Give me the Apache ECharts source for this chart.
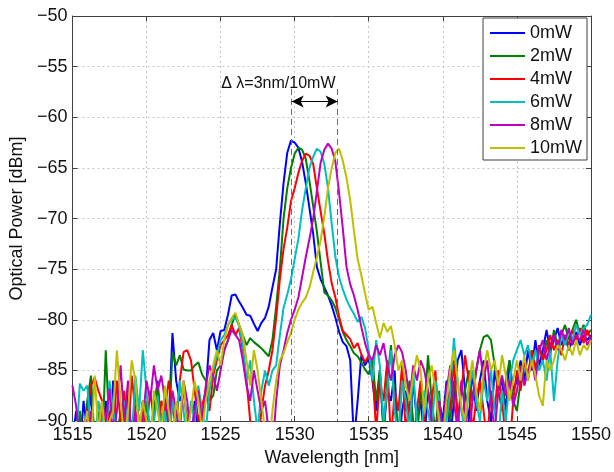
<!DOCTYPE html>
<html><head><meta charset="utf-8">
<script src="https://cdn.jsdelivr.net/npm/echarts@6/dist/echarts.min.js"></script>
<style>html,body{margin:0;padding:0;background:#fff}#c{width:614px;height:472px}</style>
</head><body><div id="c"></div>
<script>
// ---- data ----
const xStart = 1515, xStep = 0.25, nPoints = 141;
const seriesNames = ['0mW','2mW','4mW','6mW','8mW','10mW'];
const xTicks = [1515,1520,1525,1530,1535,1540,1545,1550];
const yTicks = [-90,-85,-80,-75,-70,-65,-60,-55,-50];

const p0mW = [
 -92,-89,-93,-88,   -91,-87,-93,-90,   -94,-88,-92,-86,   -93,-89,-94,-87,   // 1515-1518
 -92,-90,-93,-88,   -91,-94,-89,-86,   -92,-88,-90,-81.3, -86,-88,-87,-90,   // 1519-1522
 -93,-88,-91,-89,   -87,-82,-81.3,-83, -81.1,-81,-79.5,-77.6, -77.5,-78.2,-78.8,-79.5, // 1523-1526
 -79.6,-80.4,-81.1,-80.3, -79.8,-78.7,-76.8,-75, -70.5,-66.5,-63.5,-62.3, -62.5,-63.0,-64.4,-66.5, // 1527-1530
 -69,-71.5,-74.8,-76, -76.8,-77.6,-78.6,-79.8, -81.2,-82.2,-82.6,-84, -92,-88,-83.5,-84.5, // 1531-1534
 -83.8,-86,-89,-85, -91,-87,-88,-85, -93,-89,-87,-91, -86,-90,-88,-92, // 1535-1538
 -87,-89,-93,-88, -90,-86,-92,-88, -84,-83,-87,-90, -85,-89,-86,-84, // 1539-1542
 -88,-90,-85,-87, -86,-89,-84,-87, -86,-84,-86,-83, -85,-82,-84.5,-83, // 1543-1546
 -81,-83,-82,-80.8, -82.5,-81.5,-83,-82, -81.2,-82.5,-81.5,-82, -81.5 // 1547-1550
];
const p2mW = [
 -91,-93,-89,-92, -88,-85.5,-92,-89, -93,-83,-91,-88, -92,-89,-94,-90,
 -92,-87,-90,-93, -88,-91,-89,-86.5, -90,-88,-91,-83.2, -84.5,-83.5,-84.9,-85,
 -85,-84.5,-84.2,-85.4, -86,-88,-87.5,-85, -84.5,-83,-82,-80.5, -79.5,-80.5,-81.5,-82.5,
 -81.8,-82.2,-82.5,-82.8, -83.2,-83.6,-82,-78.7, -75,-70,-67,-65, -63.6,-63.0,-63.2,-64.1,
 -66.3,-68.8,-71.3,-74.3, -77.3,-77.6,-78.1,-78.8, -80,-81.2,-82,-82.6, -83.3,-83.6,-84.2,-84.9,
 -85.4,-84,-88,-85, -91,-86,-82.5,-88, -92,-85,-89,-86, -90,-92,-87,-89,
 -83.5,-88,-91,-87, -93,-88,-90,-86, -89,-92,-87,-85, -88,-85,-83,-81.7,
 -81.5,-82,-84.5,-87, -89,-86,-84,-88, -89,-86,-84,-86, -83,-85,-82.5,-84,
 -82,-83.5,-81,-82.5, -81.5,-80.5,-82,-81, -80,-81.5,-80.5,-81.5, -81
];
const p4mW = [
 -92,-90,-93,-91, -89,-86.5,-85.7,-87, -88,-92,-89,-91, -86,-90,-87,-92,
 -85.5,-89,-93,-88, -91,-87,-90,-92, -88,-89,-86,-88.5, -91,-86,-83.2,-83,
 -84,-87,-90,-88.5, -87,-89,-85.5,-84, -82.5,-82,-81.5,-80.5, -81.5,-80.8,-83,-86,
 -90,-94,-93,-89, -86.5,-85,-83,-79.8, -76,-73,-70.9,-68.3, -67,-65.5,-64.3,-63.6,
 -63.8,-64.6,-67,-69.3, -71.5,-74.2,-76.4,-77.8, -79.7,-81.1,-81.5,-81.9, -82.8,-82.3,-83.4,-84.2,
 -83.5,-85,-91,-86, -88,-84,-92,-87, -89,-84.5,-91,-88, -93,-89,-86,-90,
 -92,-88,-85,-91, -93,-86.5,-89,-84, -90,-87,-83.5,-86, -91,-88,-86,-89,
 -92,-87,-89,-85, -88,-92,-93,-88, -85,-87,-84,-85.5, -83,-85,-82.5,-84,
 -83,-81.5,-83,-82, -83.5,-81.5,-82.5,-81, -82,-80.8,-82.3,-81, -82
];
const p6mW = [
 -90,-92,-86.3,-87, -86.5,-91,-93,-88, -90,-92,-86,-89, -91,-93,-88,-90,
 -92,-85.5,-89,-83, -87,-92,-90,-87.5, -91,-89,-93,-88, -90,-86,-89,-92,
 -88,-90,-86.5,-89, -91,-87,-85,-83.5, -82,-81.5,-80.5,-80, -79.8,-80.6,-82.5,-86,
 -84,-88,-91,-87, -85,-86.5,-85,-84.5, -81.5,-78.8,-77.5,-76, -74,-72,-69.2,-67,
 -65,-63.9,-63.1,-63.4, -64.6,-67,-70.5,-73.8, -75.8,-77,-78,-78.8, -79.4,-80.2,-79.7,-80.8,
 -83,-86,-82,-84.5, -90,-87,-83,-89, -92,-86,-88,-91, -85,-90,-93,-87,
 -89,-91,-86,-88, -93,-90,-87,-81.8, -86,-89,-91,-87, -85,-88,-90,-86,
 -88,-85,-89,-92, -87,-90,-86,-84, -83,-82,-83.5,-82.5, -84.5,-83,-85,-84,
 -86,-83,-88,-84, -81.5,-82.5,-81,-82, -80.5,-81.5,-80.8,-80.5, -79.5
];
const p8mW = [
 -86.5,-88.5,-92,-90, -93,-89,-91,-92, -88,-90,-86.8,-92, -89,-84.5,-90,-86,
 -92,-89,-93,-90, -86,-88,-84.5,-87, -85.5,-88,-90,-87, -89,-91,-86,-88,
 -92,-89,-87,-90, -86.5,-84.5,-85.5,-87, -85,-83,-82,-81, -81.5,-82,-84,-86.5,
 -88,-85,-87,-89, -88,-91,-93,-88, -84.5,-83,-81.3,-80, -79,-77.8,-75.8,-73.8,
 -72,-70,-67.3,-64.5, -63.2,-62.6,-63.1,-64.4, -67.5,-71,-74.8,-76.5, -77.6,-79,-80.7,-82.3,
 -83.5,-84,-82.5,-83.5, -82.3,-84.5,-86,-83.5, -82.5,-83.2,-85,-88, -84.5,-86,-84,-85,
 -87,-90,-92,-88, -91,-87,-84.5,-88, -91,-86,-89,-92, -88,-85,-83,-86,
 -84,-88,-91,-87, -85.5,-87.5,-86,-88.5, -87,-84.5,-86.5,-85, -84,-86,-83,-82,
 -84,-82.5,-81.5,-83, -81,-82,-80.8,-82.5, -81.5,-82,-81,-82.5, -81.8
];
const p10mW = [
 -92,-90,-93,-91, -89,-93,-85.5,-91, -88,-92,-90,-89, -83,-88,-92,-89,
 -84,-86,-91,-88, -90,-93,-87,-89, -91,-86.5,-89,-92, -88,-90,-86,-91,
 -89,-86,-88,-91, -88,-86,-84.5,-83, -84.5,-82,-80.5,-79.8, -79.3,-80.5,-81.5,-84,
 -86.5,-83,-85,-88, -91,-93,-89,-86, -84,-83.3,-82.2,-81.3, -80,-79,-78.3,-77.8,
 -76.8,-75.3,-73.8,-72.2, -69.8,-67,-65,-63.5, -63.1,-64.3,-66,-68.2, -71.2,-74,-75.6,-77.4,
 -79,-78.7,-80.3,-81.8, -80.3,-81.2,-80.6,-82.5, -85,-84,-86.5,-88, -85.5,-83.5,-85,-89,
 -86,-84.5,-87,-90, -92,-88,-85,-83, -86,-88.5,-90,-86.5, -84,-87,-89,-85,
 -83,-85,-84,-86.5, -83.5,-85.5,-88,-86, -84,-86,-83.5,-86, -84,-85.5,-87.5,-88.5,
 -84,-85,-84,-82.5, -83,-84,-82.5,-83.5, -82,-83.5,-82.5,-83, -82
];
const seriesValues = [p0mW, p2mW, p4mW, p6mW, p8mW, p10mW];

// annotation
const markerWavelengths = [1529.8, 1532.9];
const markerTop = -57.2;
const arrowLevel = -58.45;
const annotationText = 'Δ λ=3nm/10mW';
const annotationPoint = [1528.9, -56.7];

// ---- styles ----
const colors = ['#0000ff','#007f00','#ff0000','#00bfbf','#bf00bf','#bfbf00'];
const FONT = '"Liberation Sans", Arial, Helvetica, sans-serif';
const wavelength = Array.from({length:nPoints}, (_, i) => xStart + i * xStep);
const minus = v => String(v).replace('-', '\u2212');
const plain = v => String(v);

const xMin = xTicks[0], xMax = xTicks[xTicks.length-1], xInt = xTicks[1]-xTicks[0];
const yMin = yTicks[0], yMax = yTicks[yTicks.length-1], yInt = yTicks[1]-yTicks[0];

const axisCommon = {
  axisLine: {show: true, onZero: false, lineStyle: {color: '#404040', width: 1}},
  axisTick: {show: true, inside: true, length: 5, lineStyle: {color: '#404040'}},
};

const lineSeries = seriesNames.map((name, k) => ({
  name, type: 'line', symbol: 'none', showSymbol: false, animation: false,
  data: seriesValues[k].map((v, i) => [wavelength[i], v]),
  lineStyle: {width: 2, color: colors[k]},
  itemStyle: {color: colors[k]},
  clip: true, z: 3
}));

const chart = echarts.init(document.getElementById('c'), null, {renderer: 'canvas'});
chart.setOption({
  backgroundColor: '#fff',
  animation: false,
  textStyle: {fontFamily: FONT},
  grid: {left: 69, right: 21, top: 16, bottom: 46, containLabel: false},
  xAxis: [{
    type: 'value', min: xMin, max: xMax, interval: xInt, position: 'bottom',
    ...axisCommon,
    axisLabel: {show: true, color: '#111', fontSize: 18, fontFamily: FONT, margin: 5, formatter: plain},
    splitLine: {show: true, lineStyle: {color: '#c4c4c4', type: [2, 3], width: 1}},
    name: 'Wavelength [nm]', nameLocation: 'middle', nameGap: 27,
    nameTextStyle: {color: '#111', fontSize: 18, fontFamily: FONT}
  }, {
    type: 'value', min: xMin, max: xMax, interval: xInt, position: 'top',
    ...axisCommon, axisLabel: {show: false}, splitLine: {show: false}
  }],
  yAxis: [{
    type: 'value', min: yMin, max: yMax, interval: yInt, position: 'left',
    ...axisCommon,
    axisLabel: {show: true, color: '#111', fontSize: 18, fontFamily: FONT, margin: 5, formatter: minus},
    splitLine: {show: true, lineStyle: {color: '#c4c4c4', type: [2, 3], width: 1}},
    name: 'Optical Power [dBm]', nameLocation: 'middle', nameGap: 46,
    nameTextStyle: {color: '#111', fontSize: 18, fontFamily: FONT}
  }, {
    type: 'value', min: yMin, max: yMax, interval: yInt, position: 'right',
    ...axisCommon, axisLabel: {show: false}, splitLine: {show: false}
  }],
  legend: {
    data: seriesNames, orient: 'vertical', left: 483, top: 18,
    icon: 'rect', itemWidth: 35, itemHeight: 2, itemGap: 5,
    padding: [6, 5, 3, 7],
    backgroundColor: '#fff', borderColor: '#404040', borderWidth: 1, borderRadius: 0,
    textStyle: {color: '#111', fontSize: 18, fontFamily: FONT, lineHeight: 14},
    selectedMode: false
  },
  series: [
    ...lineSeries,
    {
      name: 'markers', type: 'line', data: [], symbol: 'none', silent: true, z: 4,
      markLine: {
        silent: true, symbol: ['none', 'none'], animation: false,
        lineStyle: {color: '#5a68b0', type: [6, 4], width: 1},
        label: {show: false},
        data: markerWavelengths.map(w => [{coord: [w, markerTop]}, {coord: [w, yMin]}])
      }
    },
    {
      name: 'arrow', type: 'line', data: [], symbol: 'none', silent: true, z: 5,
      markLine: {
        silent: true, symbol: ['arrow', 'arrow'], symbolSize: [9, 12], animation: false,
        lineStyle: {color: '#000', type: 'solid', width: 1},
        label: {show: false},
        data: [[{coord: [markerWavelengths[0], arrowLevel]}, {coord: [markerWavelengths[1], arrowLevel]}]]
      }
    },
    {
      name: 'note', type: 'scatter', silent: true, z: 6,
      symbolSize: 1, itemStyle: {color: 'rgba(0,0,0,0)'},
      data: [annotationPoint],
      label: {show: true, position: 'inside', formatter: annotationText,
        color: '#111', fontSize: 16, fontFamily: FONT, textBorderWidth: 0, opacity: 1}
    }
  ]
});
</script>
</body></html>
